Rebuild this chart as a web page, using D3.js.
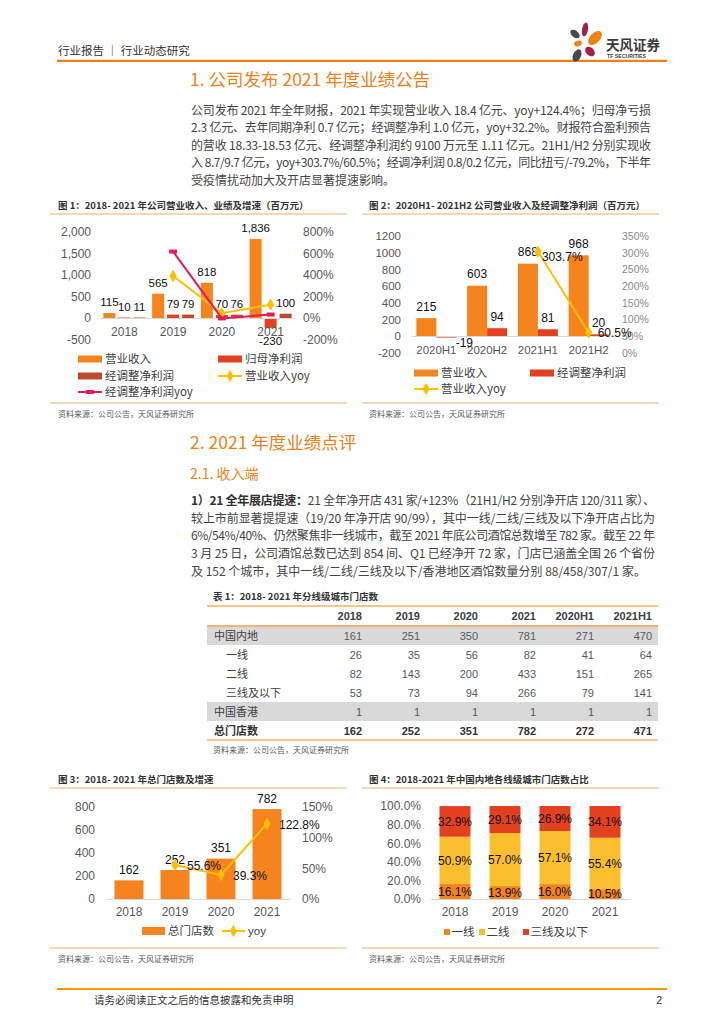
<!DOCTYPE html>
<html><head><meta charset="utf-8">
<script src="https://cdn.jsdelivr.net/npm/d3@7"></script>
<style>
body{margin:0;background:#fff;}
svg{display:block;}
</style></head><body>
<svg id="page" width="724" height="1024"></svg>
<script>
// ---------------- DATA ----------------
const fig1Years = ['2018','2019','2020','2021'];
const fig1Revenue = [115, 565, 818, 1836];
const fig1NetProfit = [10, 79, 70, -230];
const fig1AdjProfit = [11, 79, 76, 100];
const fig1RevenueYoy = [null, 391, 45, 124.4];
const fig1AdjYoy = [null, 618, -3.8, 32.2];
const fig1LeftTicks = [-500, 0, 500, 1000, 1500, 2000];
const fig1RightTicks = [-200, 0, 200, 400, 600, 800];

const fig2Periods = ['2020H1','2020H2','2021H1','2021H2'];
const fig2Revenue = [215, 603, 868, 968];
const fig2AdjProfit = [-19, 94, 81, 20];
const fig2RevenueYoy = [null, null, 303.7, 60.5];
const fig2LeftTicks = [-200, 0, 200, 400, 600, 800, 1000, 1200];
const fig2RightTicks = [0, 50, 100, 150, 200, 250, 300, 350];

const tableCols = ['2018','2019','2020','2021','2020H1','2021H1'];
const tableRowLabels = ['中国内地','一线','二线','三线及以下','中国香港','总门店数'];
const rowMainland = [161, 251, 350, 781, 271, 470];
const rowTier1 = [26, 35, 56, 82, 41, 64];
const rowTier2 = [82, 143, 200, 433, 151, 265];
const rowTier3 = [53, 73, 94, 266, 79, 141];
const rowHongKong = [1, 1, 1, 1, 1, 1];
const rowTotal = [162, 252, 351, 782, 272, 471];

const fig3Years = ['2018','2019','2020','2021'];
const fig3Stores = [162, 252, 351, 782];
const fig3Yoy = [null, 55.6, 39.3, 122.8];
const fig3LeftTicks = [0, 200, 400, 600, 800];
const fig3RightTicks = [0, 50, 100, 150];

const fig4Years = ['2018','2019','2020','2021'];
const fig4Tier1 = [16.1, 13.9, 16.0, 10.5];
const fig4Tier2 = [50.9, 57.0, 57.1, 55.4];
const fig4Tier3 = [32.9, 29.1, 26.9, 34.1];
const fig4Ticks = [0, 20, 40, 60, 80, 100];

// ---------------- STYLE ----------------
const ORANGE = '#F5841F', RED = '#E2401E', DARKRED = '#BC4A30', GOLD = '#FFC000',
      CRIMSON = '#E5195A', YELLOW = '#FBBF2D', PEACH = '#F8C8A0', HEAD = '#EF8119';
const NUMF = '"Liberation Sans", Arial, "Noto Sans CJK SC", sans-serif';
const CJK = '"Noto Sans CJK SC", "Liberation Sans", sans-serif';
const svg = d3.select('#page');

function T(g, x, y, s, o = {}) {
  const t = g.append('text').attr('x', x).attr('y', y).text(s)
    .attr('font-family', o.ff || CJK).attr('font-size', o.fs || 12)
    .attr('fill', o.fill || '#333').attr('text-anchor', o.anchor || 'start');
  if (o.bold) t.attr('font-weight', 'bold');
  if (o.tl) t.attr('textLength', o.tl).attr('lengthAdjust', 'spacing');
  return t;
}
function hline(x1, x2, y, color, w) {
  svg.append('line').attr('x1', x1).attr('x2', x2).attr('y1', y).attr('y2', y)
    .attr('stroke', color).attr('stroke-width', w);
}
const minus = s => s.replace('−', '-');
function styleAxis(g, fs, keepDomain) {
  g.attr('font-family', NUMF).attr('font-size', fs);
  if (!keepDomain) g.select('.domain').remove();
  else g.select('.domain').attr('stroke', '#D9D9D9').attr('stroke-width', 1);
  g.selectAll('text').attr('fill', '#595959');
}
function diamond(g, x, y, color, size) {
  g.append('path').attr('d', d3.symbol(d3.symbolDiamond, size || 42)())
    .attr('transform', `translate(${x},${y})`).attr('fill', color);
}

// ---------------- HEADER ----------------
T(svg, 58, 54.5, '行业报告 ｜ 行业动态研究', {fs: 11.5, fill: '#333'});
hline(57, 667, 60.8, HEAD, 2.2);
const logo = svg.append('g');
[[575, 34, 3.3, 5.5, -50, '#4A4A4A'], [585, 29.5, 3, 7, 10, '#A8203F'],
 [595, 38, 5, 8.5, 45, HEAD], [578, 43.5, 4, 2.8, -15, HEAD],
 [577, 55.5, 4, 6.5, 25, '#4A4A4A'], [590, 51.5, 4, 5.5, -45, '#A8203F']]
  .forEach(p => logo.append('ellipse').attr('cx', 0).attr('cy', 0).attr('rx', p[2]).attr('ry', p[3])
    .attr('transform', `translate(${p[0]},${p[1]}) rotate(${p[4]})`).attr('fill', p[5]));
T(logo, 606, 50, '天风证券', {fs: 13.5, bold: true, fill: '#3A3A3A'});
T(logo, 607, 58, 'TF SECURITIES', {fs: 5.2, bold: true, fill: '#3A3A3A', ff: NUMF});

// ---------------- SECTION 1 ----------------
T(svg, 190, 86, '1. 公司发布 2021 年度业绩公告', {fs: 17.5, fill: HEAD});
const para1 = [
  '公司发布 2021 年全年财报，2021 年实现营业收入 18.4 亿元、yoy+124.4%；归母净亏损',
  '2.3 亿元、去年同期净利 0.7 亿元；经调整净利 1.0 亿元，yoy+32.2%。财报符合盈利预告',
  '的营收 18.33-18.53 亿元、经调整净利润约 9100 万元至 1.11 亿元。21H1/H2 分别实现收',
  '入 8.7/9.7 亿元，yoy+303.7%/60.5%；经调净利润 0.8/0.2 亿元，同比扭亏/-79.2%，下半年',
  '受疫情扰动加大及开店显著提速影响。'
];
para1.forEach((s, i) => T(svg, 191, 114.5 + i * 17.6, s, {fs: 12, fill: '#454545', tl: i < 4 ? 460 : null}));

// figure frames
function frame(x1, x2, yTop, yBot, title, tx) {
  T(svg, tx, yTop - 5.5, title, {fs: 9.5, bold: true, fill: '#333'});
  hline(x1, x2, yTop, PEACH, 1.6);
  hline(x1, x2, yBot, PEACH, 1.6);
  T(svg, tx, yBot + 14, '资料来源：公司公告，天风证券研究所', {fs: 8, fill: '#595959'});
}
frame(50, 347, 214, 403, '图 1：2018- 2021 年公司营业收入、业绩及增速（百万元）', 58);
frame(362, 659, 214, 403, '图 2：2020H1- 2021H2 公司营业收入及经调整净利润（百万元）', 369);

// ---------------- FIGURE 1 ----------------
(function () {
  const g = svg.append('g');
  const x = d3.scaleBand().domain(fig1Years).range([100, 295]);
  const y = d3.scaleLinear().domain([-500, 2000]).range([339.5, 232]);
  const yr = d3.scaleLinear().domain([-200, 800]).range([339.5, 232]);
  const fmt = d => minus(d3.format(',')(d));
  g.append('g').attr('transform', 'translate(91,0)')
    .call(d3.axisLeft(y).tickValues(fig1LeftTicks).tickSize(0).tickPadding(0).tickFormat(fmt))
    .call(a => styleAxis(a, 12));
  g.append('g').attr('transform', 'translate(303,0)')
    .call(d3.axisRight(yr).tickValues(fig1RightTicks).tickSize(0).tickPadding(0).tickFormat(d => fmt(d) + '%'))
    .call(a => styleAxis(a, 12));
  const series = [[fig1Revenue, ORANGE], [fig1NetProfit, RED], [fig1AdjProfit, DARKRED]];
  const bw = 12, step = 15;
  const cx = (j, i) => x(fig1Years[j]) + x.bandwidth() / 2 + (i - 1) * step;
  series.forEach(([vals, col], i) => {
    g.selectAll(null).data(vals).join('rect')
      .attr('x', (d, j) => cx(j, i) - bw / 2).attr('width', bw)
      .attr('y', d => y(Math.max(0, d))).attr('height', d => Math.abs(y(d) - y(0)))
      .attr('fill', col);
  });
  g.append('g').attr('transform', `translate(0,${y(0)})`)
    .call(d3.axisBottom(x).tickSize(0).tickSizeOuter(0).tickPadding(9.7))
    .call(a => styleAxis(a, 12, true));
  const mid = d => x(d) + x.bandwidth() / 2;
  const line = (vals, yy) => d3.line().defined(d => d[1] != null).x(d => mid(d[0])).y(d => yy(d[1]))(fig1Years.map((c, j) => [c, vals[j]]));
  g.append('path').attr('d', line(fig1RevenueYoy, yr)).attr('fill', 'none').attr('stroke', GOLD).attr('stroke-width', 2);
  fig1RevenueYoy.forEach((v, j) => { if (v != null) diamond(g, mid(fig1Years[j]), yr(v), GOLD, 45); });
  g.append('path').attr('d', line(fig1AdjYoy, yr)).attr('fill', 'none').attr('stroke', CRIMSON).attr('stroke-width', 2);
  fig1AdjYoy.forEach((v, j) => { if (v != null) g.append('rect').attr('x', mid(fig1Years[j]) - 4).attr('y', yr(v) - 2).attr('width', 8).attr('height', 4).attr('fill', CRIMSON); });
  series.forEach(([vals], i) => {
    vals.forEach((v, j) => T(g, cx(j, i), v >= 0 ? y(v) - 7 : y(v) + 17, fmt(v), {fs: 11.5, ff: NUMF, fill: '#111', anchor: 'middle'}));
  });
  // legend
  const L = svg.append('g').attr('font-family', CJK);
  const item = (x0, yc, type, col, label) => {
    if (type === 'bar') L.append('rect').attr('x', x0).attr('y', yc - 3.5).attr('width', 24).attr('height', 7).attr('fill', col);
    else {
      L.append('line').attr('x1', x0).attr('x2', x0 + 24).attr('y1', yc).attr('y2', yc).attr('stroke', col).attr('stroke-width', 2);
      if (type === 'diamond') diamond(L, x0 + 12, yc, col, 45);
      else L.append('rect').attr('x', x0 + 8).attr('y', yc - 2).attr('width', 8).attr('height', 4).attr('fill', col);
    }
    T(L, x0 + 27, yc + 4, label, {fs: 11.5, fill: '#404040'});
  };
  item(78, 359, 'bar', ORANGE, '营业收入');
  item(218, 359, 'bar', RED, '归母净利润');
  item(78, 376, 'bar', DARKRED, '经调整净利润');
  item(218, 376, 'diamond', GOLD, '营业收入yoy');
  item(78, 392, 'dash', CRIMSON, '经调整净利润yoy');
})();

// ---------------- FIGURE 2 ----------------
(function () {
  const g = svg.append('g');
  const x = d3.scaleBand().domain(fig2Periods).range([411, 614]);
  const y = d3.scaleLinear().domain([-200, 1200]).range([352.7, 236]);
  const yr = d3.scaleLinear().domain([0, 350]).range([352.7, 236]);
  g.append('g').attr('transform', 'translate(401,0)')
    .call(d3.axisLeft(y).tickValues(fig2LeftTicks).tickSize(0).tickPadding(0).tickFormat(d => minus(String(d))))
    .call(a => styleAxis(a, 11.5));
  g.append('g').attr('transform', 'translate(622,0)')
    .call(d3.axisRight(yr).tickValues(fig2RightTicks).tickSize(0).tickPadding(0).tickFormat(d => d + '%'))
    .call(a => { styleAxis(a, 10.5); a.selectAll('text').attr('fill', '#8C8C8C'); });
  const bw = 20;
  const cx = (j, i) => x(fig2Periods[j]) + x.bandwidth() / 2 + (i === 0 ? -bw / 2 : bw / 2);
  [[fig2Revenue, ORANGE], [fig2AdjProfit, RED]].forEach(([vals, col], i) => {
    g.selectAll(null).data(vals).join('rect')
      .attr('x', (d, j) => cx(j, i) - bw / 2).attr('width', bw)
      .attr('y', d => y(Math.max(0, d))).attr('height', d => Math.abs(y(d) - y(0)))
      .attr('fill', col);
  });
  g.append('g').attr('transform', `translate(0,${y(0)})`)
    .call(d3.axisBottom(x).tickSize(0).tickSizeOuter(0).tickPadding(10))
    .call(a => styleAxis(a, 11.5, true));
  const mid = d => x(d) + x.bandwidth() / 2;
  const pts = fig2Periods.map((c, j) => [c, fig2RevenueYoy[j]]);
  g.append('path').attr('d', d3.line().defined(d => d[1] != null).x(d => mid(d[0])).y(d => yr(d[1]))(pts))
    .attr('fill', 'none').attr('stroke', GOLD).attr('stroke-width', 2);
  [[fig2Revenue, 0], [fig2AdjProfit, 1]].forEach(([vals, i]) => vals.forEach((v, j) => {
    if (v >= 0) T(g, cx(j, i), y(v) - 7.5, String(v), {fs: 12, ff: NUMF, fill: '#111', anchor: 'middle'});
    else T(g, cx(j, i) + 18, y(v) + 9.5, minus(String(v)), {fs: 12, ff: NUMF, fill: '#111', anchor: 'middle'});
  }));
  const yoyLabelOffsets = [[0, 0], [0, 0], [4, 9.5], [9, 4.5]];
  pts.forEach(([c, v], j) => {
    if (v == null) return;
    diamond(g, mid(c), yr(v), GOLD, 45);
    T(g, mid(c) + yoyLabelOffsets[j][0], yr(v) + yoyLabelOffsets[j][1], v.toFixed(1) + '%', {fs: 12, ff: NUMF, fill: '#111'});
  });
  const L = svg.append('g');
  L.append('rect').attr('x', 414).attr('y', 369.5).attr('width', 24).attr('height', 7).attr('fill', ORANGE);
  T(L, 441, 377, '营业收入', {fs: 11.5, fill: '#404040'});
  L.append('rect').attr('x', 530).attr('y', 369.5).attr('width', 24).attr('height', 7).attr('fill', RED);
  T(L, 557, 377, '经调整净利润', {fs: 11.5, fill: '#404040'});
  L.append('line').attr('x1', 414).attr('x2', 438).attr('y1', 389).attr('y2', 389).attr('stroke', GOLD).attr('stroke-width', 2);
  diamond(L, 426, 389, GOLD, 45);
  T(L, 441, 393, '营业收入yoy', {fs: 11.5, fill: '#404040'});
})();

// ---------------- SECTION 2 ----------------
T(svg, 190, 449, '2. 2021 年度业绩点评', {fs: 17.5, fill: HEAD});
T(svg, 190, 479, '2.1. 收入端', {fs: 14, fill: HEAD});
const para2 = [
  '较上市前显著提提速（19/20 年净开店 90/99），其中一线/二线/三线及以下净开店占比为',
  '6%/54%/40%、仍然聚焦非一线城市，截至 2021 年底公司酒馆总数增至 782 家。截至 22 年',
  '3 月 25 日，公司酒馆总数已达到 854 间、Q1 已经净开 72 家，门店已涵盖全国 26 个省份',
  '及 152 个城市，其中一线/二线/三线及以下/香港地区酒馆数量分别 88/458/307/1 家。'
];
(function () {
  const y0 = 505, lh = 17.7;
  const t = svg.append('text').attr('x', 191).attr('y', y0).attr('font-family', CJK).attr('font-size', 12)
    .attr('fill', '#454545').attr('textLength', 464).attr('lengthAdjust', 'spacing');
  t.append('tspan').attr('font-weight', 'bold').attr('fill', '#333').text('1）21 全年展店提速：');
  t.append('tspan').text('21 全年净开店 431 家/+123%（21H1/H2 分别净开店 120/311 家）、');
  para2.forEach((s, i) => T(svg, 191, y0 + (i + 1) * lh, s, {fs: 12, fill: '#454545', tl: i < 3 ? 464 : null}));
})();

// ---------------- TABLE ----------------
(function () {
  const g = svg.append('g');
  T(g, 213, 599.5, '表 1：2018- 2021 年分线级城市门店数', {fs: 9.5, bold: true, fill: '#333'});
  const xc = d3.scalePoint().domain(tableCols).range([362, 652]);
  const rows = d3.scaleBand().domain(tableRowLabels).range([626, 740]);
  const values = [rowMainland, rowTier1, rowTier2, rowTier3, rowHongKong, rowTotal];
  [0, 4].forEach(i => g.append('rect').attr('x', 207).attr('width', 451)
    .attr('y', rows(tableRowLabels[i])).attr('height', rows.bandwidth()).attr('fill', '#D9D9D9'));
  tableCols.forEach(c => T(g, xc(c), 620, c, {fs: 11, ff: NUMF, bold: true, fill: '#404040', anchor: 'end'}));
  tableRowLabels.forEach((lab, i) => {
    const yb = rows(lab) + rows.bandwidth() / 2 + 4;
    const indent = (i >= 1 && i <= 3) ? 12 : 0;
    const bold = i === 5;
    T(g, 214 + indent, yb, lab, {fs: 11, bold, fill: bold ? '#333' : '#404040'});
    values[i].forEach((v, j) => T(g, xc(tableCols[j]), yb, String(v), {fs: 11, ff: NUMF, bold, fill: bold ? '#333' : '#595959', anchor: 'end'}));
  });
  hline(207, 658, 606, '#F9C593', 2);
  hline(207, 658, 626, '#F6B27A', 2);
  hline(207, 658, 740, '#F9C593', 2);
  T(g, 213, 753, '资料来源：公司公告，天风证券研究所', {fs: 8, fill: '#595959'});
})();

frame(50, 347, 788, 948, '图 3：2018- 2021 年总门店数及增速', 58);
frame(362, 659, 788, 948, '图 4：2018-2021 年中国内地各线级城市门店数占比', 369);

// ---------------- FIGURE 3 ----------------
(function () {
  const g = svg.append('g');
  const x = d3.scaleBand().domain(fig3Years).range([106, 290]);
  const y = d3.scaleLinear().domain([0, 800]).range([899, 807]);
  const yr = d3.scaleLinear().domain([0, 150]).range([899, 807]);
  g.append('g').attr('transform', 'translate(95,0)')
    .call(d3.axisLeft(y).tickValues(fig3LeftTicks).tickSize(0).tickPadding(0))
    .call(a => styleAxis(a, 12));
  g.append('g').attr('transform', 'translate(302,0)')
    .call(d3.axisRight(yr).tickValues(fig3RightTicks).tickSize(0).tickPadding(0).tickFormat(d => d + '%'))
    .call(a => styleAxis(a, 12));
  const bw = 29;
  const mid = d => x(d) + x.bandwidth() / 2;
  g.selectAll(null).data(fig3Stores).join('rect')
    .attr('x', (d, j) => mid(fig3Years[j]) - bw / 2).attr('width', bw)
    .attr('y', d => y(d)).attr('height', d => y(0) - y(d)).attr('fill', ORANGE);
  g.append('g').attr('transform', `translate(0,${y(0)})`)
    .call(d3.axisBottom(x).tickSize(0).tickSizeOuter(0).tickPadding(8.7))
    .call(a => styleAxis(a, 12, true));
  fig3Stores.forEach((v, j) => T(g, mid(fig3Years[j]), y(v) - 6.5, String(v), {fs: 12, ff: NUMF, fill: '#111', anchor: 'middle'}));
  const pts = fig3Years.map((c, j) => [c, fig3Yoy[j]]);
  g.append('path').attr('d', d3.line().defined(d => d[1] != null).x(d => mid(d[0])).y(d => yr(d[1]))(pts))
    .attr('fill', 'none').attr('stroke', GOLD).attr('stroke-width', 2);
  pts.forEach(([c, v]) => {
    if (v == null) return;
    diamond(g, mid(c), yr(v), GOLD, 45);
    T(g, mid(c) + 12, yr(v) + 5, v.toFixed(1) + '%', {fs: 12, ff: NUMF, fill: '#111'});
  });
  const L = svg.append('g');
  L.append('rect').attr('x', 142).attr('y', 927).attr('width', 23).attr('height', 8).attr('fill', ORANGE);
  T(L, 168, 935, '总门店数', {fs: 11.5, fill: '#404040'});
  L.append('line').attr('x1', 222).attr('x2', 245).attr('y1', 931).attr('y2', 931).attr('stroke', GOLD).attr('stroke-width', 2);
  diamond(L, 233.5, 931, GOLD, 45);
  T(L, 248, 935, 'yoy', {fs: 11.5, fill: '#404040', ff: NUMF});
})();

// ---------------- FIGURE 4 ----------------
(function () {
  const g = svg.append('g');
  const x = d3.scaleBand().domain(fig4Years).range([430, 630]);
  const y = d3.scaleLinear().domain([0, 100]).range([899, 806]);
  g.append('g').attr('transform', 'translate(421,0)')
    .call(d3.axisLeft(y).tickValues(fig4Ticks).tickSize(0).tickPadding(0).tickFormat(d => d.toFixed(1) + '%'))
    .call(a => styleAxis(a, 12));
  const keys = ['t1', 't2', 't3'];
  const colors = [ORANGE, YELLOW, RED];
  const rows = fig4Years.map((yr, j) => ({year: yr, t1: fig4Tier1[j], t2: fig4Tier2[j], t3: fig4Tier3[j]}));
  const stack = d3.stack().keys(keys)(rows);
  const bw = 31;
  const mid = d => x(d) + x.bandwidth() / 2;
  stack.forEach((layer, k) => {
    g.selectAll(null).data(layer).join('rect')
      .attr('x', d => mid(d.data.year) - bw / 2).attr('width', bw)
      .attr('y', d => y(d[1])).attr('height', d => y(d[0]) - y(d[1])).attr('fill', colors[k]);
  });
  g.append('g').attr('transform', `translate(0,${y(0)})`)
    .call(d3.axisBottom(x).tickSize(0).tickSizeOuter(0).tickPadding(8.7))
    .call(a => styleAxis(a, 12, true));
  stack.forEach(layer => layer.forEach(d => {
    T(g, mid(d.data.year), (y(d[0]) + y(d[1])) / 2 + 4.2, (d[1] - d[0]).toFixed(1) + '%', {fs: 12, ff: NUMF, fill: '#111', anchor: 'middle'});
  }));
  const L = svg.append('g');
  [['一线', ORANGE, 444], ['二线', YELLOW, 479], ['三线及以下', RED, 523]].forEach(([lab, col, x0]) => {
    L.append('rect').attr('x', x0).attr('y', 929).attr('width', 6).attr('height', 6).attr('fill', col);
    T(L, x0 + 7.5, 936, lab, {fs: 11.5, fill: '#404040'});
  });
})();

// ---------------- FOOTER ----------------
hline(57, 667, 989, '#F39800', 2);
T(svg, 94, 1004, '请务必阅读正文之后的信息披露和免责申明', {fs: 10.5, fill: '#333'});
T(svg, 662, 1004, '2', {fs: 10.5, fill: '#333', anchor: 'end', ff: NUMF});
</script>
</body></html>
